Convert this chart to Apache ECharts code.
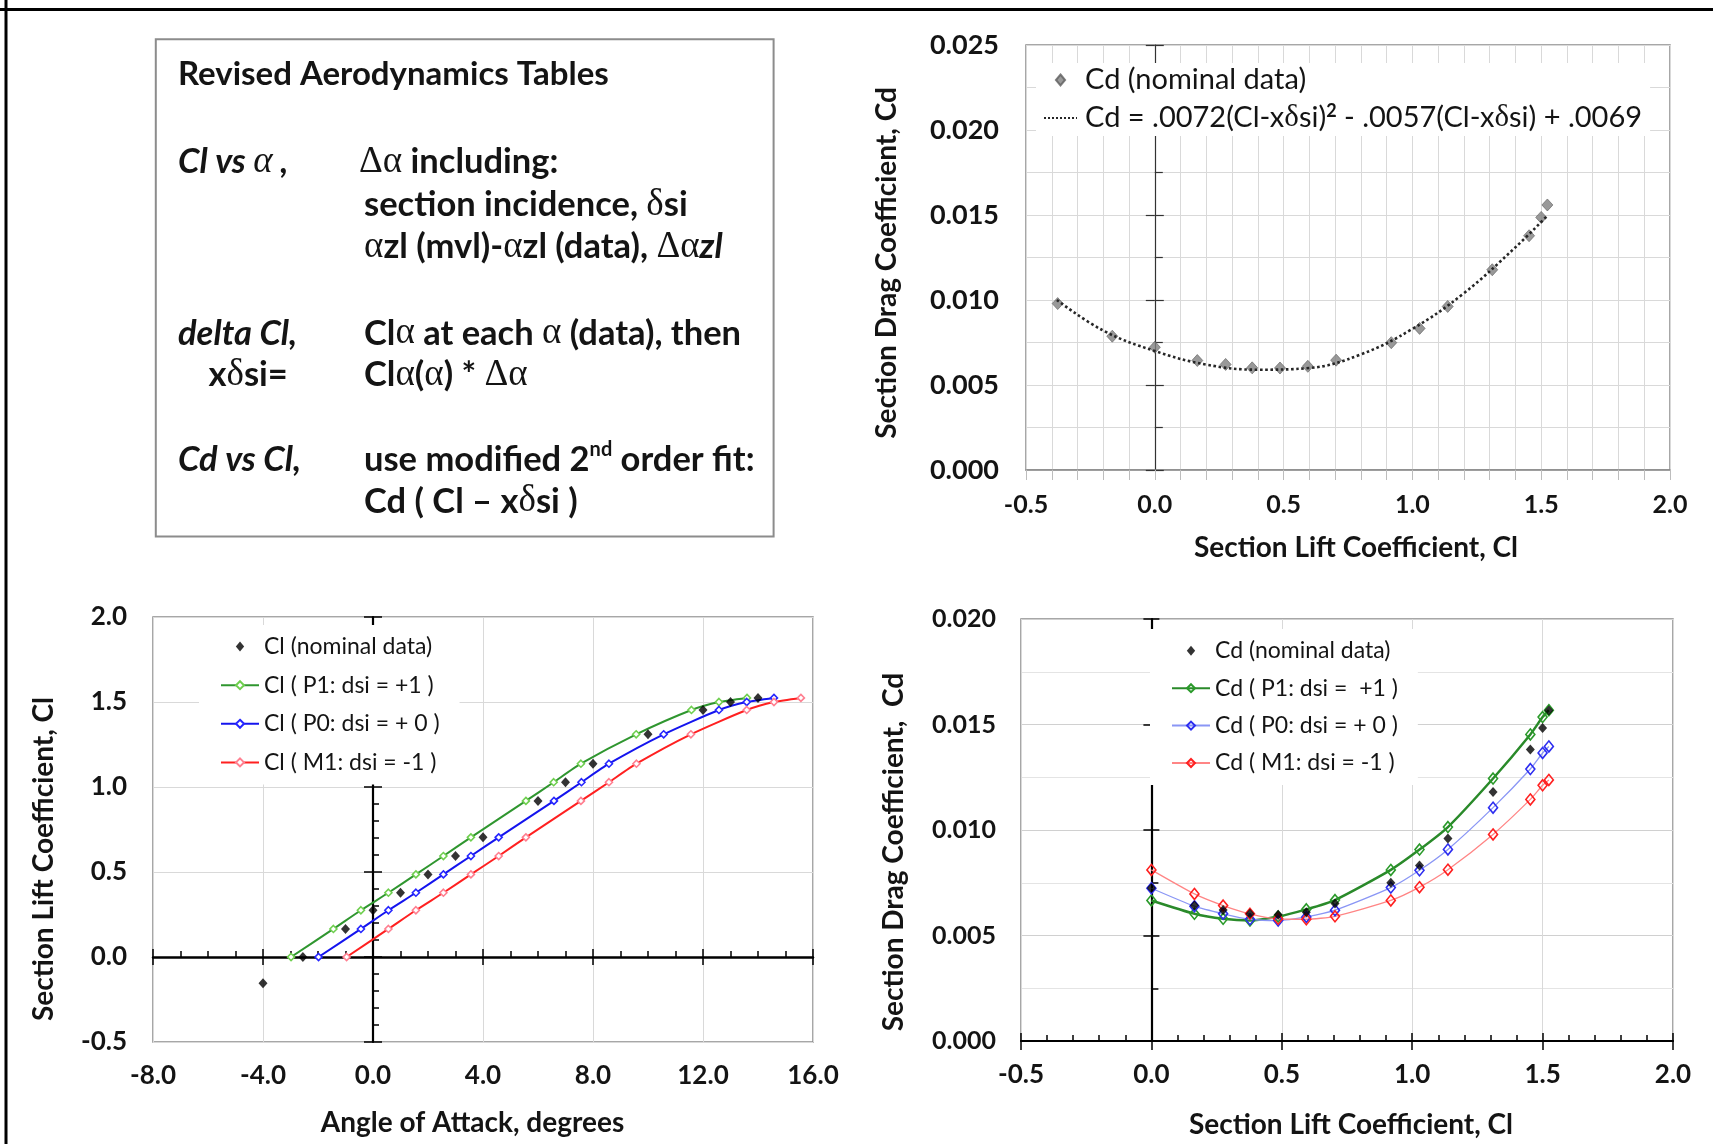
<!DOCTYPE html>
<html>
<head>
<meta charset="utf-8">
<script src="https://cdn.jsdelivr.net/npm/echarts@6/dist/echarts.min.js"></script>
<style>
  html, body { margin: 0; padding: 0; background: #fff; }
  #chart { width: 1713px; height: 1144px; }
</style>
</head>
<body>
<div id="chart"></div>
<script>
// ---- Cd vs Cl, nominal section data with its quadratic trend line (top right) ----
const dragNomCl = [-0.377, -0.165, 0.0, 0.165, 0.275, 0.378, 0.486, 0.594, 0.704, 0.918, 1.028, 1.137, 1.31, 1.453, 1.50, 1.524];
const dragNomCd = [0.00979, 0.00787, 0.00722, 0.00644, 0.00621, 0.00601, 0.00600, 0.00610, 0.00646, 0.00749, 0.00833, 0.00962, 0.01178, 0.01378, 0.01486, 0.01559];
const fitCl = [-0.38, -0.2, 0.0, 0.2, 0.4, 0.6, 0.8, 1.0, 1.2, 1.4, 1.52];
const fitCd = [0.0100, 0.0082, 0.0070, 0.0062, 0.0059, 0.0060, 0.0068, 0.0083, 0.0104, 0.0131, 0.0149];

// ---- Cl vs angle of attack (bottom left) ----
const nomAlpha = [-4, -2.55, -1, 0, 1, 2, 3, 4, 6, 7, 8, 10, 12, 13, 14];
const nomCl = [-0.155, 0.0, 0.165, 0.275, 0.378, 0.486, 0.594, 0.704, 0.918, 1.028, 1.137, 1.31, 1.453, 1.50, 1.524];
const caseCl = [0.0, 0.165, 0.275, 0.378, 0.486, 0.594, 0.704, 0.918, 1.028, 1.137, 1.31, 1.453, 1.50, 1.524];
const p1Alpha = [-2.98, -1.44, -0.44, 0.56, 1.56, 2.56, 3.56, 5.56, 6.57, 7.56, 9.57, 11.58, 12.58, 13.6];
const p0Alpha = [-1.98, -0.44, 0.56, 1.56, 2.56, 3.56, 4.57, 6.58, 7.58, 8.58, 10.57, 12.58, 13.59, 14.58];
const m1Alpha = [-0.96, 0.56, 1.56, 2.56, 3.56, 4.57, 5.56, 7.56, 8.58, 9.58, 11.56, 13.59, 14.58, 15.56];

// ---- Cd vs Cl for the three incidence cases (bottom right) ----
const nomCd = [0.00725, 0.00642, 0.00621, 0.00603, 0.00598, 0.00610, 0.00652, 0.00750, 0.00832, 0.00960, 0.01180, 0.01381, 0.01483, 0.01566];
const p1Cd = [0.00666, 0.00603, 0.00579, 0.00571, 0.00590, 0.00624, 0.00668, 0.00811, 0.00907, 0.01014, 0.01244, 0.01453, 0.01535, 0.01568];
const p0Cd = [0.00724, 0.00639, 0.00603, 0.00577, 0.00571, 0.00588, 0.00620, 0.00727, 0.00809, 0.00908, 0.01106, 0.01289, 0.01365, 0.01396];
const m1Cd = [0.00811, 0.00697, 0.00642, 0.00603, 0.00579, 0.00577, 0.00591, 0.00666, 0.00729, 0.00812, 0.00979, 0.01145, 0.01212, 0.01237];

const FONT = 'Lato, "Liberation Sans", sans-serif';
const SERIF = '"Liberation Serif", "DejaVu Serif", serif';
const INK = '#141414';
const GRID_C = '#d9d9d9';
const BORDER_C = '#8a8a8a';
const DIAMOND = 'path://M5,0L10,6L5,12L0,6Z';

const pairs = (xs, ys) => xs.map((x, i) => [x, ys[i]]);

const LABELS = {
  nomTR: '{t|Cd (nominal data)}',
  fitTR: '{t|Cd = .0072(Cl-x}{g|δ}{t|si)}{s|2}{t| - .0057(Cl-x}{g|δ}{t|si) + .0069}',
  nomBL: 'Cl (nominal data)',
  p1BL: 'Cl ( P1: dsi = +1 )',
  p0BL: 'Cl ( P0: dsi = + 0 )',
  m1BL: 'Cl ( M1: dsi = -1 )',
  nomBR: 'Cd (nominal data)',
  p1BR: 'Cd ( P1: dsi =  +1 )',
  p0BR: 'Cd ( P0: dsi = + 0 )',
  m1BR: 'Cd ( M1: dsi = -1 )'
};

const tickLabel = (digits, margin, size) => ({
  show: true, margin: margin, fontFamily: FONT, fontWeight: 'bold', fontSize: size, color: INK,
  formatter: v => v.toFixed(digits)
});
const noLabel = { show: false };
const hidden = { show: false };
const clearLine = (onZeroIdx) => ({ show: true, onZero: true, onZeroAxisIndex: onZeroIdx, lineStyle: { color: 'rgba(0,0,0,0)', width: 0 } });

const xAxes = [
  // 0: top right, labelled bottom axis with 0.1 gridlines
  { gridIndex: 0, type: 'value', min: -0.5, max: 2.0, interval: 0.5, position: 'bottom',
    axisLine: { show: true, onZero: false, lineStyle: { color: BORDER_C, width: 1.5 } },
    axisTick: { show: true, inside: false, length: 10, lineStyle: { color: '#bdbdbd' } },
    minorTick: { show: true, splitNumber: 5, length: 10, lineStyle: { color: '#bdbdbd' } },
    axisLabel: tickLabel(1, 22, 25),
    splitLine: { show: true, lineStyle: { color: GRID_C } },
    minorSplitLine: { show: true, lineStyle: { color: GRID_C } } },
  // 1: bottom left, labelled
  { gridIndex: 1, type: 'value', min: -8, max: 16, interval: 4, position: 'bottom',
    axisLine: { show: false, onZero: false }, axisTick: hidden,
    axisLabel: tickLabel(1, 21, 26),
    splitLine: { show: true, lineStyle: { color: GRID_C } } },
  // 2: bottom left, Cl = 0 line with upward ticks
  { gridIndex: 1, type: 'value', min: -8, max: 16, interval: 4, position: 'bottom',
    axisLine: { show: true, onZero: true, onZeroAxisIndex: 3, lineStyle: { color: '#000', width: 2.5 } },
    axisTick: { show: true, inside: true, length: 8, lineStyle: { color: '#000', width: 1.5 } },
    minorTick: { show: true, splitNumber: 4, length: 6, lineStyle: { color: '#000', width: 1.5 } },
    axisLabel: noLabel, splitLine: hidden },
  // 3: bottom left, Cl = 0 line downward major ticks
  { gridIndex: 1, type: 'value', min: -8, max: 16, interval: 4, position: 'bottom',
    axisLine: clearLine(3),
    axisTick: { show: true, inside: false, length: 8, lineStyle: { color: '#000', width: 1.5 } },
    axisLabel: noLabel, splitLine: hidden },
  // 4: bottom right, labelled black axis
  { gridIndex: 2, type: 'value', min: -0.5, max: 2.0, interval: 0.5, position: 'bottom',
    axisLine: { show: true, onZero: false, lineStyle: { color: '#000', width: 2.2 } },
    axisTick: { show: true, inside: true, length: 8, lineStyle: { color: '#000', width: 1.5 } },
    minorTick: { show: true, splitNumber: 5, length: 6, lineStyle: { color: '#000', width: 1.5 } },
    axisLabel: tickLabel(1, 21, 26),
    splitLine: { show: true, lineStyle: { color: GRID_C } } },
  // 5: bottom right, outward major ticks
  { gridIndex: 2, type: 'value', min: -0.5, max: 2.0, interval: 0.5, position: 'bottom',
    axisLine: { show: true, onZero: false, lineStyle: { color: 'rgba(0,0,0,0)', width: 0 } },
    axisTick: { show: true, inside: false, length: 9, lineStyle: { color: '#000', width: 1.5 } },
    axisLabel: noLabel, splitLine: hidden }
];

const yAxes = [
  // 0: top right labelled
  { gridIndex: 0, type: 'value', min: 0, max: 0.025, interval: 0.005, position: 'left',
    axisLine: { show: false, onZero: false }, axisTick: hidden,
    axisLabel: tickLabel(3, 27, 27),
    minorTick: { show: false, splitNumber: 2 },
    splitLine: { show: true, lineStyle: { color: GRID_C } },
    minorSplitLine: { show: true, lineStyle: { color: GRID_C } } },
  // 1: top right, Cl = 0 line
  { gridIndex: 0, type: 'value', min: 0, max: 0.025, interval: 0.005, position: 'left',
    axisLine: { show: true, onZero: true, onZeroAxisIndex: 0, lineStyle: { color: '#333', width: 1.2 } },
    axisTick: { show: true, inside: true, length: 9, lineStyle: { color: '#333', width: 1.2 } },
    minorTick: { show: true, splitNumber: 2, length: 8, lineStyle: { color: '#333', width: 1.2 } },
    axisLabel: noLabel, splitLine: hidden },
  // 2: top right, outward ticks on the Cl = 0 line
  { gridIndex: 0, type: 'value', min: 0, max: 0.025, interval: 0.005, position: 'left',
    axisLine: clearLine(0),
    axisTick: { show: true, inside: false, length: 9, lineStyle: { color: '#333', width: 1.2 } },
    axisLabel: noLabel, splitLine: hidden },
  // 3: bottom left labelled
  { gridIndex: 1, type: 'value', min: -0.5, max: 2.0, interval: 0.5, position: 'left',
    axisLine: { show: false, onZero: false }, axisTick: hidden,
    axisLabel: tickLabel(1, 26, 26),
    splitLine: { show: true, lineStyle: { color: GRID_C } } },
  // 4: bottom left, alpha = 0 line
  { gridIndex: 1, type: 'value', min: -0.5, max: 2.0, interval: 0.5, position: 'left',
    axisLine: { show: true, onZero: true, onZeroAxisIndex: 1, lineStyle: { color: '#000', width: 2.2 } },
    axisTick: { show: true, inside: true, length: 9, lineStyle: { color: '#000', width: 1.5 } },
    minorTick: { show: true, splitNumber: 5, length: 6, lineStyle: { color: '#000', width: 1.5 } },
    axisLabel: noLabel, splitLine: hidden },
  // 5: bottom left, outward ticks on alpha = 0
  { gridIndex: 1, type: 'value', min: -0.5, max: 2.0, interval: 0.5, position: 'left',
    axisLine: clearLine(1),
    axisTick: { show: true, inside: false, length: 9, lineStyle: { color: '#000', width: 1.5 } },
    axisLabel: noLabel, splitLine: hidden },
  // 6: bottom right labelled
  { gridIndex: 2, type: 'value', min: 0, max: 0.02, interval: 0.005, position: 'left',
    axisLine: { show: false, onZero: false }, axisTick: hidden,
    axisLabel: tickLabel(3, 25, 25),
    minorTick: { show: false, splitNumber: 2 },
    splitLine: { show: true, lineStyle: { color: '#d0d0d0' } },
    minorSplitLine: { show: true, lineStyle: { color: '#e4e4e4' } } },
  // 7: bottom right, Cl = 0 line
  { gridIndex: 2, type: 'value', min: 0, max: 0.02, interval: 0.005, position: 'left',
    axisLine: { show: true, onZero: true, onZeroAxisIndex: 4, lineStyle: { color: '#000', width: 2.2 } },
    axisTick: { show: true, inside: true, length: 8, lineStyle: { color: '#000', width: 1.5 } },
    minorTick: { show: true, splitNumber: 2, length: 7, lineStyle: { color: '#000', width: 1.5 } },
    axisLabel: noLabel, splitLine: hidden },
  // 8: bottom right, outward ticks on Cl = 0
  { gridIndex: 2, type: 'value', min: 0, max: 0.02, interval: 0.005, position: 'left',
    axisLine: clearLine(4),
    axisTick: { show: true, inside: false, length: 8, lineStyle: { color: '#000', width: 1.5 } },
    axisLabel: noLabel, splitLine: hidden }
];

const gridBase = { show: true, borderColor: BORDER_C, borderWidth: 1.5, backgroundColor: 'transparent', containLabel: false, outerBoundsMode: 'none' };

const caseLine = (name, xi, yi, data, line, lw, mark, size, fill) => ({
  name, type: 'line', xAxisIndex: xi, yAxisIndex: yi, data,
  smooth: 0.2, symbol: 'diamond', symbolSize: size, showAllSymbol: true,
  lineStyle: { color: line, width: lw },
  itemStyle: { color: fill, borderColor: mark, borderWidth: 1.6 },
  z: 3
});

const boxRich = {
  b: { fontFamily: FONT, fontWeight: 'bold', fontSize: 34.5, fill: INK, lineHeight: 40 },
  i: { fontFamily: FONT, fontWeight: 'bold', fontStyle: 'italic', fontSize: 34.5, fill: INK, lineHeight: 40 },
  t: { fontFamily: FONT, fontWeight: 'bold', fontSize: 33, fill: INK, lineHeight: 40 },
  g: { fontFamily: SERIF, fontSize: 37, fill: INK, lineHeight: 40 },
  gi: { fontFamily: SERIF, fontStyle: 'italic', fontSize: 37, fill: INK, lineHeight: 40 },
  sup: { fontFamily: FONT, fontWeight: 'bold', fontSize: 20, fill: INK, lineHeight: 20, verticalAlign: 'top' }
};
const boxText = (x, y, text) => ({
  type: 'text', x, y, z: 10,
  style: { text, rich: boxRich, fill: INK, textAlign: 'left', textVerticalAlign: 'middle' }
});
const title = (x, y, text, rot) => ({
  type: 'text', x, y, rotation: rot || 0, z: 10,
  style: { text, fontFamily: FONT, fontWeight: 'bold', fontSize: 28, fill: INK, textAlign: 'center', textVerticalAlign: 'middle' }
});

const smallLegend = (keys, left, top, pad, gap) => ({
  data: keys.map(k => (k.indexOf('nom') === 0 ? { name: k, icon: DIAMOND } : { name: k })),
  orient: 'vertical', left, top, padding: pad, itemGap: gap,
  itemWidth: 38, itemHeight: 10, symbolKeepAspect: true, backgroundColor: '#fff', selectedMode: false,
  formatter: n => LABELS[n],
  textStyle: { fontFamily: FONT, fontSize: 23, color: INK, lineHeight: 26 }
});

const option = {
  animation: false,
  backgroundColor: '#fff',
  grid: [
    Object.assign({ left: 1026, top: 45, width: 644, height: 425 }, gridBase),
    Object.assign({ left: 153, top: 617, width: 660, height: 425 }, gridBase),
    Object.assign({ left: 1021, top: 619, width: 652, height: 422 }, gridBase)
  ],
  xAxis: xAxes,
  yAxis: yAxes,
  legend: [
    { data: [{ name: 'nomTR', icon: DIAMOND }, { name: 'fitTR', itemStyle: { opacity: 0 } }],
      orient: 'vertical', left: 1036, top: 63, padding: [1, 8, 2, 7], itemGap: 6,
      itemWidth: 33, itemHeight: 11, symbolKeepAspect: true, backgroundColor: '#fff', selectedMode: false,
      formatter: n => LABELS[n],
      textStyle: { fontFamily: FONT, fontSize: 29, color: INK, lineHeight: 32, padding: [0, 0, 0, 3],
        rich: {
          t: { fontFamily: FONT, fontSize: 29, color: INK, lineHeight: 32 },
          g: { fontFamily: SERIF, fontSize: 31, color: INK, lineHeight: 32 },
          s: { fontFamily: FONT, fontWeight: 'bold', fontSize: 18, color: INK, lineHeight: 20, verticalAlign: 'top' }
        } } },
    smallLegend(['nomBL', 'p1BL', 'p0BL', 'm1BL'], 199, 625, [8.6, 20, 9, 21], 12.6),
    smallLegend(['nomBR', 'p1BR', 'p0BR', 'm1BR'], 1150, 629, [8.8, 20, 9, 21], 11.4)
  ],
  series: [
    // top right
    { name: 'nomTR', type: 'scatter', xAxisIndex: 0, yAxisIndex: 0, data: pairs(dragNomCl, dragNomCd),
      symbol: 'diamond', symbolSize: [11, 12], itemStyle: { color: '#808080', borderColor: '#5e5e5e', borderWidth: 0.8 }, z: 3 },
    { name: 'fitTR', type: 'line', xAxisIndex: 0, yAxisIndex: 0, data: pairs(fitCl, fitCd),
      smooth: 0.4, showSymbol: false, symbol: 'circle',
      lineStyle: { color: '#262626', width: 2.6, type: 'dotted' }, itemStyle: { color: '#262626' }, z: 4 },
    // bottom left
    caseLine('p1BL', 1, 3, pairs(p1Alpha, caseCl), '#2f962f', 2, '#6fcf4f', 7, '#ffffff'),
    caseLine('p0BL', 1, 3, pairs(p0Alpha, caseCl), '#1414ee', 2, '#2626ff', 7, '#ffffff'),
    caseLine('m1BL', 1, 3, pairs(m1Alpha, caseCl), '#ff2020', 2, '#ff7f90', 7, '#ffffff'),
    { name: 'nomBL', type: 'scatter', xAxisIndex: 1, yAxisIndex: 3, data: pairs(nomAlpha, nomCl),
      symbol: 'diamond', symbolSize: [9, 10], itemStyle: { color: '#000' }, z: 5 },
    // bottom right
    caseLine('p1BR', 4, 6, pairs(caseCl, p1Cd), '#2a8a2a', 2.5, '#2a9a2a', [9, 11], 'rgba(255,255,255,0)'),
    caseLine('p0BR', 4, 6, pairs(caseCl, p0Cd), '#8a96f5', 1.3, '#2d2df0', [9, 11], 'rgba(255,255,255,0)'),
    caseLine('m1BR', 4, 6, pairs(caseCl, m1Cd), '#ff8585', 1.3, '#ff2020', [9, 11], 'rgba(255,255,255,0)'),
    { name: 'nomBR', type: 'scatter', xAxisIndex: 4, yAxisIndex: 6, data: pairs(caseCl, nomCd),
      symbol: 'diamond', symbolSize: [9, 10], itemStyle: { color: '#000' }, z: 5 }
  ],
  graphic: [
    // frame edges
    { type: 'line', shape: { x1: 6, y1: 0, x2: 6, y2: 1144 }, style: { stroke: '#000', lineWidth: 3 }, z: 10 },
    { type: 'line', shape: { x1: 0, y1: 9.5, x2: 1713, y2: 9.5 }, style: { stroke: '#000', lineWidth: 3 }, z: 10 },
    // notes box
    { type: 'rect', shape: { x: 155.8, y: 39.3, width: 617.8, height: 497.3 }, style: { fill: '#fff', stroke: '#8c8c8c', lineWidth: 2 }, z: 9 },
    boxText(178, 74.5, '{t|Revised Aerodynamics Tables}'),
    boxText(178, 162, '{i|Cl vs }{gi|α}{i| ,}'),
    boxText(359, 162, '{g|Δα}{b| including:}'),
    boxText(364, 205, '{b|section incidence, }{g|δ}{b|si}'),
    boxText(364, 247, '{g|α}{b|zl (mvl)-}{g|α}{b|zl (data), }{g|Δα}{i|zl}'),
    boxText(178, 333.5, '{i|delta Cl,}'),
    boxText(364, 333.5, '{b|Cl}{g|α}{b| at each }{g|α}{b| (data), then}'),
    boxText(208.5, 375, '{b|x}{g|δ}{b|si=}'),
    boxText(364, 375, '{b|Cl}{g|α}{b|(}{g|α}{b|) * }{g|Δα}'),
    boxText(178, 459.5, '{i|Cd vs Cl,}'),
    boxText(364, 459.5, '{b|use modified 2}{sup|nd}{b| order fit:}'),
    boxText(364, 501.5, '{b|Cd ( Cl – x}{g|δ}{b|si )}'),
    // axis titles
    title(1356, 548, 'Section Lift Coefficient, Cl'),
    title(887, 263, 'Section Drag Coefficient, Cd', Math.PI / 2),
    title(472.5, 1123, 'Angle of Attack, degrees'),
    title(44, 859, 'Section Lift Coefficient, Cl', Math.PI / 2),
    title(1351, 1125, 'Section Lift Coefficient, Cl'),
    title(894, 852, 'Section Drag Coefficient,  Cd', Math.PI / 2)
  ]
};

const chart = echarts.init(document.getElementById('chart'), null, { renderer: 'canvas', width: 1713, height: 1144 });
chart.setOption(option);
</script>
</body>
</html>
